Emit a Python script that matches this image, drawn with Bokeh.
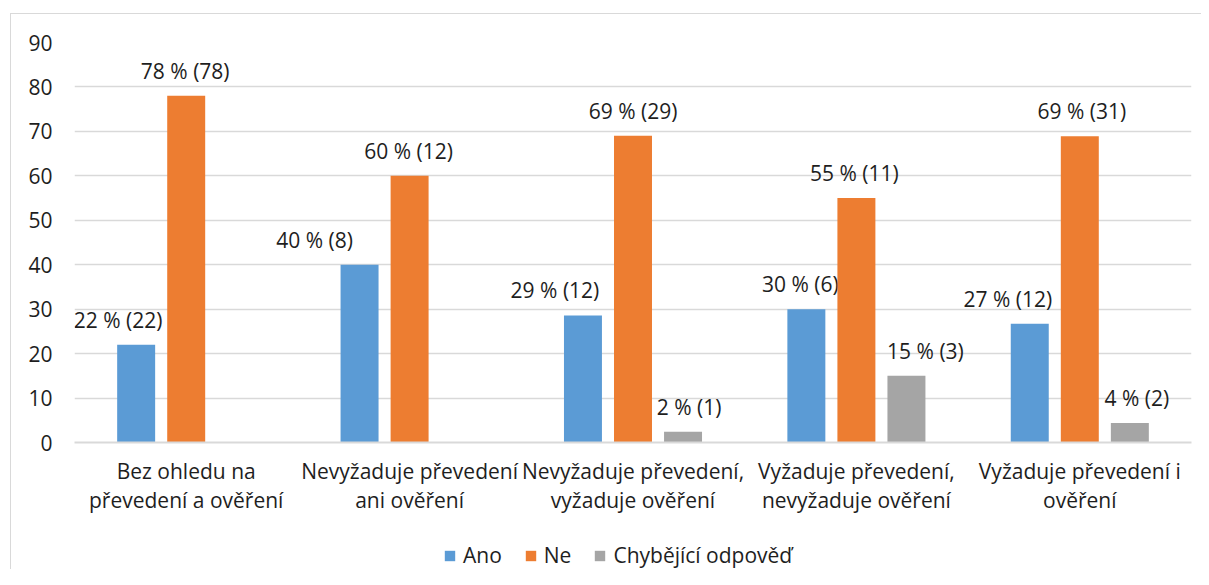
from bokeh.plotting import figure
from bokeh.models import ColumnDataSource, Range1d, Legend, LegendItem, FixedTicker
from bokeh.layouts import column
from bokeh.transform import dodge
from bokeh.core.properties import value
from bokeh.embed import file_html
from bokeh.resources import INLINE

categories = ["Bez ohledu na\npřevedení a ověření",
              "Nevyžaduje převedení\nani ověření",
              "Nevyžaduje převedení,\nvyžaduje ověření",
              "Vyžaduje převedení,\nnevyžaduje ověření",
              "Vyžaduje převedení i\nověření"]
series = ["Ano", "Ne", "Chybějící odpověď"]
ano = [22.0, 40.0, 28.6, 30.0, 26.7]
ne = [78.0, 60.0, 69.0, 55.0, 68.9]
chybi = [0.0, 0.0, 2.4, 15.0, 4.4]
ano_labels = ["22 % (22)", "40 % (8)", "29 % (12)", "30 % (6)", "27 % (12)"]
ne_labels = ["78 % (78)", "60 % (12)", "69 % (29)", "55 % (11)", "69 % (31)"]
chybi_labels = ["", "", "2 % (1)", "15 % (3)", "4 % (2)"]
y_ticks = [0, 10, 20, 30, 40, 50, 60, 70, 80, 90]

colors = ["#5B9BD5", "#ED7D31", "#A5A5A5"]
FONT = "Open Sans"
TXT = "#1e1e1e"
# label horizontal nudges (px) as placed by the original layout
ano_dx = [-18, -45, -28, -6, -22]
ne_dx = [-1, -1, 0, -2, 2]
chybi_dx = [0, 0, 6, 19, 7]

p = figure(x_range=categories, y_range=Range1d(0, 90), width=1190, height=525,
           output_backend="svg", toolbar_location=None,
           min_border_left=63, min_border_right=10, min_border_top=28, min_border_bottom=97)
p.outline_line_color = None
p.background_fill_color = "white"
p.border_fill_color = "white"
p.x_range.range_padding = 0

p.xgrid.grid_line_color = None
p.ygrid.grid_line_color = "#d9d9d9"
p.ygrid.grid_line_width = 1.5
p.ygrid.ticker = FixedTicker(ticks=y_ticks)

p.yaxis.ticker = FixedTicker(ticks=y_ticks)
p.yaxis.axis_line_color = None
p.yaxis.major_tick_line_color = None
p.yaxis.minor_tick_line_color = None
p.yaxis.major_label_standoff = 16
p.yaxis.major_label_text_font = FONT
p.yaxis.major_label_text_font_size = "21px"
p.yaxis.major_label_text_color = TXT

p.xaxis.axis_line_color = "#d9d9d9"
p.xaxis.axis_line_width = 2
p.xaxis.major_tick_line_color = None
p.xaxis.minor_tick_line_color = None
p.xaxis.major_label_standoff = 8
p.xaxis.major_label_text_font = FONT
p.xaxis.major_label_text_font_size = "21px"
p.xaxis.major_label_text_color = TXT
p.xaxis.major_label_text_line_height = 1.05

src = ColumnDataSource(dict(cat=categories, ano=ano, ne=ne, chybi=chybi,
                            ano_l=ano_labels, ne_l=ne_labels, chybi_l=chybi_labels,
                            ano_dx=ano_dx, ne_dx=ne_dx, chybi_dx=chybi_dx))

offsets = [-0.224, 0.0, 0.224]
cols = ["ano", "ne", "chybi"]
for off, col, color in zip(offsets, cols, colors):
    p.vbar(x=dodge("cat", off, range=p.x_range), top=col, width=0.17, source=src,
           fill_color=color, line_color=None)
    p.text(x=dodge("cat", off, range=p.x_range), y=col, text=col + "_l", source=src,
           x_offset=col + "_dx", y_offset=-25,
           text_align="center", text_baseline="middle",
           text_font=value(FONT), text_font_size="21px", text_color=TXT)

# legend strip below the chart (its swatch renderers sit outside the visible range)
lg = figure(width=1190, height=30, x_range=Range1d(0, 1), y_range=Range1d(0, 1),
            x_axis_location=None, y_axis_location=None,
            output_backend="svg", toolbar_location=None,
            min_border_left=0, min_border_right=0, min_border_top=0, min_border_bottom=0)
lg.grid.visible = False
lg.outline_line_color = None
lg.border_fill_color = "white"
leg_src = ColumnDataSource(dict(x=[-5], top=[-5]))
leg_renderers = [lg.vbar(x="x", top="top", bottom=-6, width=0.1, source=leg_src,
                         fill_color=c, line_color=None) for c in colors]
legend = Legend(items=[LegendItem(label=s, renderers=[r]) for s, r in zip(series, leg_renderers)],
                orientation="horizontal", location=(369, 0))
legend.padding = 0
legend.margin = 0
legend.border_line_color = None
legend.background_fill_alpha = 0
legend.glyph_width = 13
legend.glyph_height = 13
legend.label_standoff = 7
legend.spacing = 22
legend.label_text_font = FONT
legend.label_text_font_size = "21px"
legend.label_text_color = TXT
lg.add_layout(legend, "center")

layout = column(p, lg, spacing=0)
layout.styles = {"margin-left": "10px", "margin-top": "13px",
                 "border-left": "1px solid #d9d9d9", "border-top": "1px solid #d9d9d9"}

open("out.html", "w").write(file_html(layout, INLINE))
